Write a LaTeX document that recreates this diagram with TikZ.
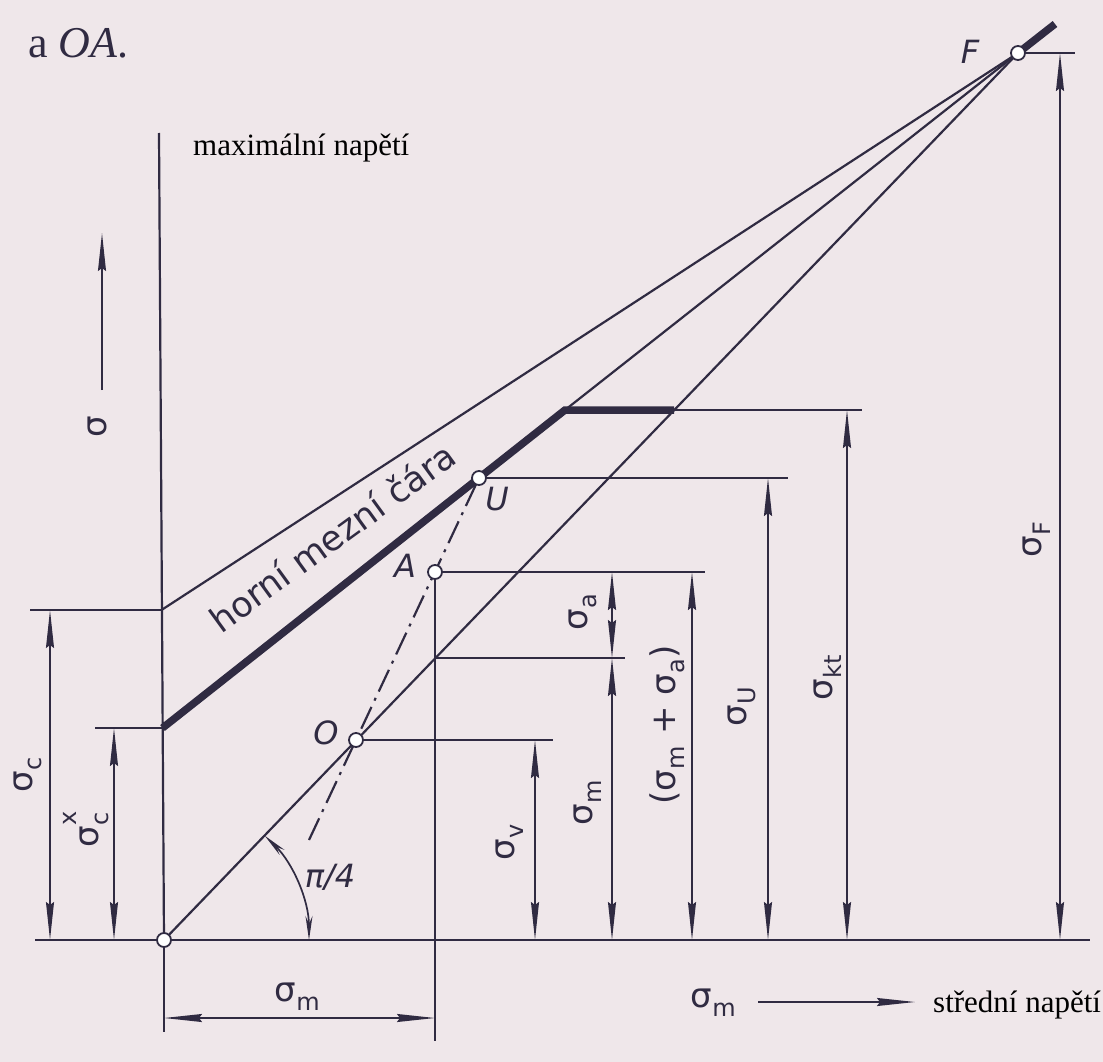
\documentclass[tikz,border=0pt]{standalone}
\usepackage{fontspec}
\setmainfont{Liberation Serif}
\newfontfamily\tech{DejaVu Sans}
\usetikzlibrary{arrows.meta}
\definecolor{Paper}{HTML}{EFE7EA}
\definecolor{Ink}{HTML}{302B42}
\newcommand{\sg}[1]{σ\kern.5pt\raisebox{-.5ex}{\fontsize{24}{26}\selectfont#1}}
\newcommand{\sgx}[2]{σ\kern.5pt\rlap{\raisebox{1.2ex}{\fontsize{24}{26}\selectfont#2}}\raisebox{-.5ex}{\fontsize{24}{26}\selectfont#1}}

\begin{document}
\begin{tikzpicture}[x=1pt,y=-1pt,>={Stealth[length=38pt,width=8pt,inset=3pt]},
  drawline/.style={Ink,line width=2.2pt},
  dimline/.style={Ink,line width=1.7pt},
  boldline/.style={Ink,line width=7.5pt},
  dashdot/.style={Ink,line width=2.2pt,dash pattern=on 24pt off 7pt on 3pt off 7pt},
  pointmark/.style={circle,draw=Ink,fill=white,line width=1.8pt,minimum size=14pt,inner sep=0pt},
  lbl/.style={Ink,inner sep=0pt,font={\tech\fontsize{34}{38}\selectfont}},
  vlbl/.style={lbl,rotate=90},
  note/.style={black,inner sep=0pt,anchor=base west,font={\fontsize{31}{36}\selectfont}}]
\fill[Paper] (0,0) rectangle (1103,1062);
\coordinate (O0) at (164,940);
\coordinate (Top) at (159,133);
\coordinate (C) at (161.5,610);
\coordinate (Cx) at (162.5,728);
\coordinate (F) at (1018,53);
\coordinate (Fx) at (1055,24);
\coordinate (U) at (479,478);
\coordinate (K) at (565,410);
\coordinate (Kt) at (674,410);
\coordinate (A) at (435,572);
\coordinate (M) at (435,658);
\coordinate (O) at (356,740);
\coordinate (D) at (309,840);
\coordinate (Xl) at (35,940);
\coordinate (Xr) at (1090,940);
\coordinate (Sb) at (102,390);
\coordinate (St) at (102,233);
\coordinate (Ml) at (758,1002);
\coordinate (Mr) at (915,1002);
\draw[drawline] (Top)--(O0);
\draw[drawline] (Xl)--(Xr);
\draw[drawline] (C)--(F);
\draw[drawline] (K)--(F);
\draw[drawline] (O0)--(F);
\draw[boldline] (Cx)--(K)--(Kt);
\draw[boldline] (F)--(Fx);
\draw[dashdot] (D)--(U);
\foreach \p/\x in {C/30,Cx/95}{\draw[drawline] (\x,0 |- \p)--(\p);}
\foreach \p/\x in {O/553,M/625,A/705,U/788,Kt/862,F/1075}{\draw[drawline] (\p)--(\x,0 |- \p);}
\draw[drawline] (A)--(A |- 0,1041);
\draw[drawline] (O0)--(O0 |- 0,1032);
\foreach \x/\a/\b in {50/C/O0,114/Cx/O0,535/O/O0,612/M/O0,612/A/M,692/A/O0,768/U/O0,847/K/O0,1060/F/O0}{\draw[dimline,<->] (\x,0 |- \a)--(\x,0 |- \b);}
\draw[dimline,<->] (O0 |- 0,1018)--(A |- 0,1018);
\draw[dimline,{Stealth[length=24pt,width=7pt]}-{Stealth[length=24pt,width=7pt]}] (309,940) arc[start angle=0,end angle=-46,radius=145];
\draw[dimline,->] (Sb)--(St);
\draw[dimline,->] (Ml)--(Mr);
\node[lbl,font={\tech\itshape\fontsize{32}{36}\selectfont}] (lF) at (970,52) {F};
\node[lbl,font={\tech\itshape\fontsize{32}{36}\selectfont}] (lU) at (497,499) {U};
\node[lbl,font={\tech\itshape\fontsize{32}{36}\selectfont}] (lA) at (405,566) {A};
\node[lbl,font={\tech\itshape\fontsize{32}{36}\selectfont}] (lO) at (326,733) {O};
\node[lbl,font={\tech\itshape\fontsize{32}{36}\selectfont}] (lpi) at (330,877) {π/4};
\node[lbl,rotate=36,font={\tech\fontsize{35}{40}\selectfont}] (lcurve) at (332,537) {horní mezní čára};
\node[vlbl] (sS) at (97,427) {σ};
\node[vlbl] (sC) at (28,775) {\sg{c}};
\node[vlbl] (sCx) at (86,830) {\sgx{c}{x}};
\node[vlbl] (sA) at (583,612) {\sg{a}};
\node[vlbl] (sM) at (588,803) {\sg{m}};
\node[vlbl] (sV) at (510,842) {\sg{v}};
\node[vlbl] (sMA) at (667,725) {(\sg{m} + \sg{a})};
\node[vlbl] (sU) at (742,707) {\sg{U}};
\node[vlbl] (sKt) at (828,678) {\sg{kt}};
\node[vlbl] (sF) at (1037,540) {\sg{F}};
\node[lbl] (sMb) at (297,997) {\sg{m}};
\node[lbl] (sMr) at (713,1003) {\sg{m}};
\node[note,text=Ink,font={\fontsize{44}{50}\selectfont}] (cap) at (28,58) {a \textit{OA}.};
\node[note] (ymax) at (193,156) {maximální napětí};
\node[note] (xmid) at (933,1012) {střední napětí};
\foreach \p in {O0,O,A,U,F}{\node[pointmark] (m\p) at (\p) {};}
\end{tikzpicture}
\end{document}
